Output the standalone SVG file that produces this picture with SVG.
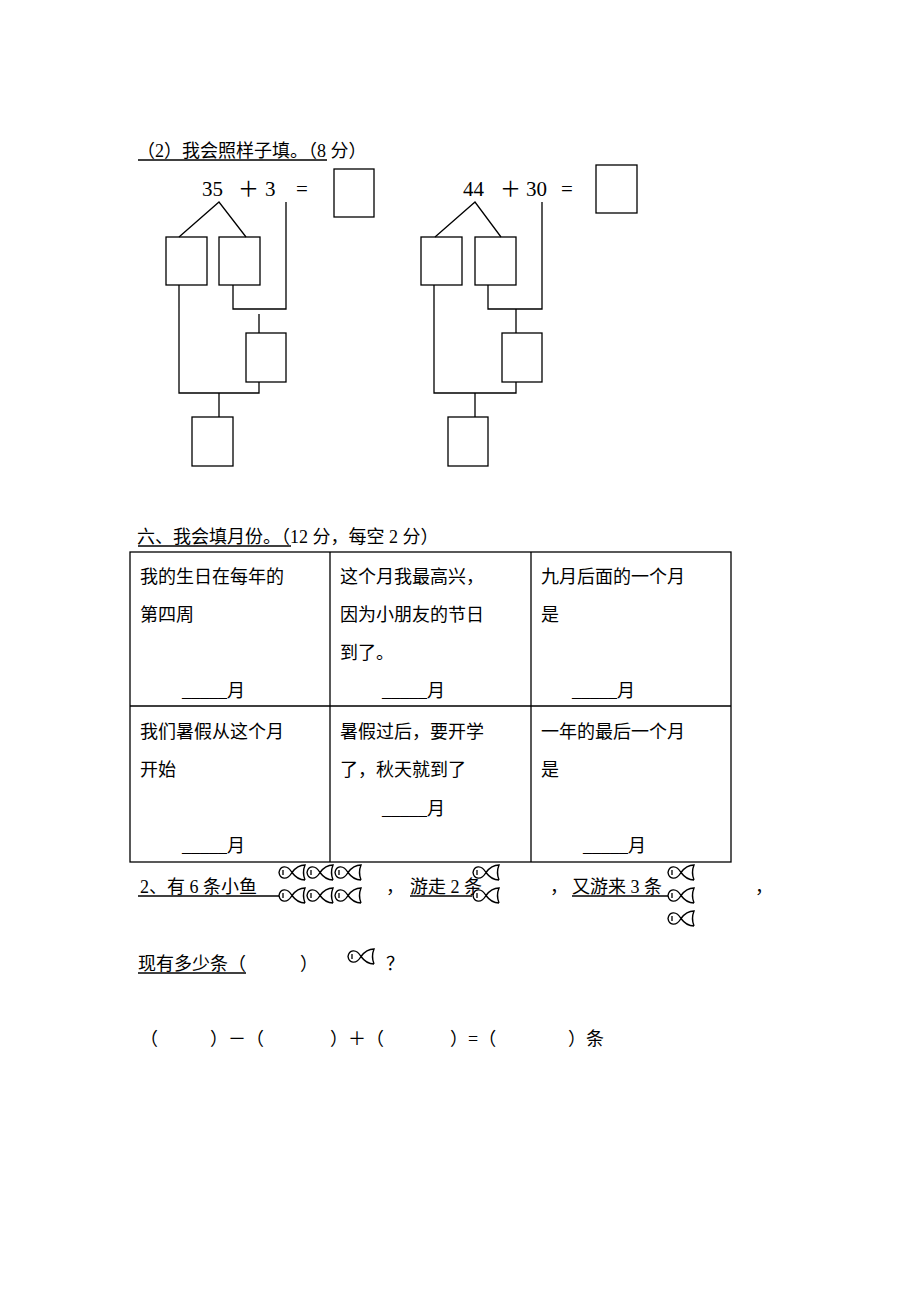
<svg xmlns="http://www.w3.org/2000/svg" width="920" height="1302" viewBox="0 0 920 1302">
<style>
text{font-family:"Liberation Serif","Noto Sans CJK SC",serif;font-size:18px;fill:#000}
.n{font-size:21px}
.b{fill:#fff;stroke:#000;stroke-width:1.3}
.l{fill:none;stroke:#000;stroke-width:1.3}
.f{fill:#fff;stroke:#000;stroke-width:1.4}
</style>
<defs>
<symbol id="fish" viewBox="0 0 28 17" overflow="visible">
<path class="f" d="M1,8.5 C2,2 9,0 14,8.5 C18,14 23,16 27,16 M1,8.5 C2,15 9,17 14,8.5 C18,3 23,1 27,1 C25,6 25,11 27,16"/>
<path class="l" d="M5,6 V11"/>
</symbol>
</defs>
<rect width="920" height="1302" fill="#fff"/>
<text x="137" y="157">（2）我会照样子填。（8 分）</text>
<line class="l" x1="138" y1="160" x2="327" y2="160"/>
<g id="left">
<text class="n" x="202" y="196">35</text><text class="n" x="238" y="196">＋</text><text class="n" x="265" y="196">3</text><text class="n" x="296" y="196">=</text>
<rect id="l0" class="b" x="334" y="169" width="40" height="48"/>
<rect id="l1" class="b" x="166" y="237" width="41" height="48"/>
<rect id="l2" class="b" x="219" y="237" width="41" height="48"/>
<rect id="l3" class="b" x="246" y="333" width="40" height="49"/>
<rect id="l4" class="b" x="192" y="417" width="41" height="49"/>
</g>
<g id="right">
<text class="n" x="463" y="196">44</text><text class="n" x="500" y="196">＋</text><text class="n" x="526" y="196">30</text><text class="n" x="561" y="196">=</text>
<rect id="r0" class="b" x="596" y="165" width="41" height="48"/>
<rect id="r1" class="b" x="421" y="237" width="41" height="48"/>
<rect id="r2" class="b" x="475" y="237" width="41" height="48"/>
<rect id="r3" class="b" x="502" y="333" width="40" height="49"/>
<rect id="r4" class="b" x="448" y="417" width="40" height="49"/>
</g>
<g id="connectors">
<path class="l" d="M179,237 L219,202 L246,237 M286,202 V309 H233 V285 M259,314 V333 M179,285 V393 H259 V382 M219,393 V417"/>
<path class="l" d="M435,237 L475,202 L501,237 M542,202 V309 H488 V285 M516,309 V333 M434,285 V393 H516 V382 M475,393 V417"/>
</g>
<text x="137" y="543">六、我会填月份。（12 分，每空 2 分）</text>
<line class="l" x1="138" y1="546" x2="291" y2="546"/>
<g id="table">
<rect class="l" x="130" y="552" width="601" height="310"/>
<path class="l" d="M330,552 V862 M531,552 V862 M130,706 H731"/>
<text x="140" y="583">我的生日在每年的</text><text x="140" y="621">第四周</text><text x="182" y="697">_____月</text>
<text x="340" y="583">这个月我最高兴，</text><text x="340" y="621">因为小朋友的节日</text><text x="340" y="659">到了。</text><text x="382" y="697">_____月</text>
<text x="541" y="583">九月后面的一个月</text><text x="541" y="621">是</text><text x="572" y="697">_____月</text>
<text x="140" y="738">我们暑假从这个月</text><text x="140" y="776">开始</text><text x="182" y="852">_____月</text>
<text x="340" y="738">暑假过后，要开学</text><text x="340" y="776">了，秋天就到了</text><text x="382" y="815">_____月</text>
<text x="541" y="738">一年的最后一个月</text><text x="541" y="776">是</text><text x="583" y="852">_____月</text>
</g>
<text x="140" y="893">2、有 6 条小鱼</text>
<line class="l" x1="138" y1="896" x2="280" y2="896"/>
<use href="#fish" x="278" y="864" width="28" height="17"/><use href="#fish" x="306" y="864" width="28" height="17"/><use href="#fish" x="334" y="864" width="28" height="17"/>
<use href="#fish" x="278" y="887" width="28" height="17"/><use href="#fish" x="306" y="887" width="28" height="17"/><use href="#fish" x="334" y="887" width="28" height="17"/>
<text x="386" y="893">，</text>
<text x="410" y="893">游走 2 条</text>
<line class="l" x1="410" y1="896" x2="472" y2="896"/>
<use href="#fish" x="472" y="864" width="28" height="17"/><use href="#fish" x="472" y="887" width="28" height="17"/>
<text x="550" y="893">，</text>
<text x="572" y="893">又游来 3 条</text>
<line class="l" x1="572" y1="896" x2="668" y2="896"/>
<use href="#fish" x="667" y="864" width="28" height="17"/><use href="#fish" x="667" y="887" width="28" height="17"/><use href="#fish" x="667" y="910" width="28" height="17"/>
<text x="755" y="893">，</text>
<text x="138" y="970">现有多少条（　　　）</text>
<line class="l" x1="138" y1="973" x2="246" y2="973"/>
<use href="#fish" x="347" y="948" width="28" height="17"/>
<text x="386" y="970">？</text>
<text x="140" y="1045">（</text><text x="210" y="1045">）－（</text><text x="330" y="1045">）＋（</text><text x="450" y="1045">）=（</text><text x="568" y="1045">）条</text>
</svg>
